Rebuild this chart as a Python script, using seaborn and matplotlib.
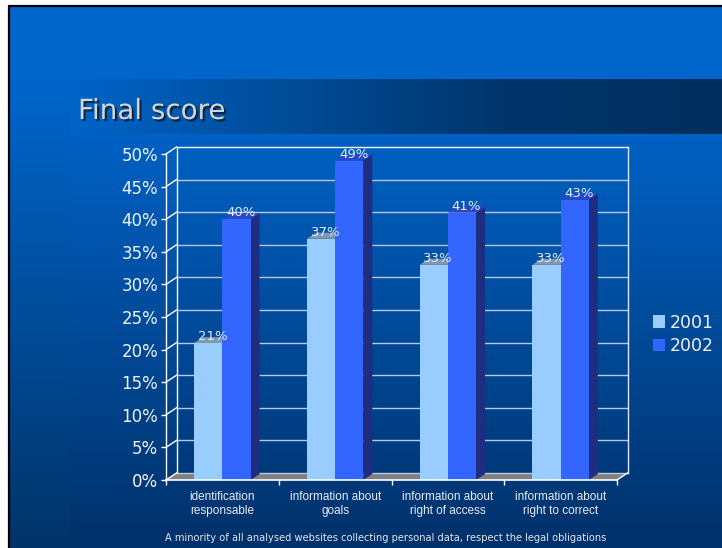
import numpy as np
import pandas as pd
import matplotlib
matplotlib.use('Agg')
import matplotlib.pyplot as plt
import matplotlib.patheffects as pe
from matplotlib.patches import Polygon, Rectangle
from matplotlib.colors import LinearSegmentedColormap
import seaborn as sns

# ---------------- data ----------------
categories = ['identification\nresponsable', 'information about\ngoals',
              'information about\nright of access', 'information about\nright to correct']
years = ['2001', '2002']
values_2001 = [21, 37, 33, 33]
values_2002 = [40, 49, 41, 43]
ytick_values = list(range(0, 55, 5))
ytick_labels = [f'{v}%' for v in ytick_values]
title = 'Final score'
caption = 'A minority of all analysed websites collecting personal data, respect the legal obligations'

# ---------------- figure & background ----------------
W, H = 722, 548
fig = plt.figure(figsize=(W / 100, H / 100), dpi=100, facecolor='white')

bg = fig.add_axes([0, 0, 1, 1], zorder=-10)
bg.axis('off')
grad_v = np.linspace(0, 1, 256).reshape(-1, 1)
grad_h = np.linspace(0, 1, 256).reshape(1, -1)
cm_left = LinearSegmentedColormap.from_list('l', ['#0066CC', '#003468'])
cm_main = LinearSegmentedColormap.from_list('m', ['#0061C4', '#00316A'])
cm_band = LinearSegmentedColormap.from_list('b', ['#0064C8', '#004C98', '#00356A', '#002F5E'])
bg.add_patch(Rectangle((9, 7), W - 9, 72, color='#0066CC', lw=0, zorder=0))
bg.imshow(grad_v, cmap=cm_left, extent=[9, 70, H, 79], aspect='auto', zorder=1)
bg.imshow(grad_v, cmap=cm_main, extent=[70, W, H, 134], aspect='auto', zorder=1)
bg.imshow(grad_h, cmap=cm_band, extent=[70, W, 134, 79], aspect='auto', zorder=1)
bg.plot([8.5, 8.5], [6, H], color='black', lw=1.6, zorder=3, solid_capstyle='butt')
bg.plot([8, W], [6, 6], color='black', lw=1.6, zorder=3, solid_capstyle='butt')
bg.set_xlim(0, W)
bg.set_ylim(H, 0)

# ---------------- chart axes ----------------
L, R, B, T = 166, 617, 480, 154
ax = fig.add_axes([L / W, 1 - B / H, (R - L) / W, (B - T) / H])

df = pd.DataFrame({
    'category': categories * 2,
    'year': [years[0]] * len(values_2001) + [years[1]] * len(values_2002),
    'value': values_2001 + values_2002,
})

front_cols = {'2001': '#99CCFF', '2002': '#3366FF'}
side_cols = {'2001': '#6F88A8', '2002': '#1E2D80'}
top_cols = {'2001': '#8099B3', '2002': '#2A47C8'}

sns.barplot(data=df, x='category', y='value', hue='year', hue_order=years,
            palette=[front_cols[y] for y in years], width=0.5, saturation=1,
            linewidth=0, ax=ax)

ax.set_xlim(-0.5, 3.5)
ax.set_ylim(0, 50)
ax.patch.set_alpha(0)
for s in ax.spines.values():
    s.set_visible(False)
ax.set_xlabel('')
ax.set_ylabel('')

ppx = 4 / (R - L)      # data units per pixel (x)
ppy = 50 / (B - T)     # data units per pixel (y)
dxb, dyb = 9 * ppx, 6 * ppy      # bar depth
dxw, dyw = 10.5 * ppx, 7 * ppy   # wall depth

# 3D faces of bars
for p in list(ax.patches):
    w = p.get_width()
    h = p.get_height()
    if w <= 0 or h <= 0:
        continue
    x0 = p.get_x()
    x1 = x0 + w
    cx = x0 + w / 2
    yr = '2001' if cx < round(cx) else '2002'
    base_z = 2.5 if yr == '2001' else 3.5
    p.set_zorder(base_z + 0.5)
    ax.add_patch(Polygon([(x1, 0), (x1 + dxb, dyb), (x1 + dxb, h + dyb), (x1, h)],
                         closed=True, fc=side_cols[yr], ec='none', zorder=base_z))
    ax.add_patch(Polygon([(x0, h), (x1, h), (x1 + dxb, h + dyb), (x0 + dxb, h + dyb)],
                         closed=True, fc=top_cols[yr], ec='none', zorder=base_z))
    ax.annotate(f'{h:.0f}%', xy=(cx, h), xytext=(4.5, 3), textcoords='offset pixels',
                ha='center', va='baseline', fontsize=9.5, color='#E4ECF8', zorder=6)

# floor
ax.add_patch(Polygon([(-0.5, 0), (3.5, 0), (3.5 + dxw, dyw), (-0.5 + dxw, dyw)],
                     closed=True, fc='#808080', ec='none', zorder=1.2, clip_on=False))

# back wall grid + side wall lines
for v in ytick_values:
    col = 'white' if v == ytick_values[-1] else '#B4C8E4'
    ax.plot([-0.5 + dxw, 3.5 + dxw], [v + dyw, v + dyw], color=col, lw=1.0,
            clip_on=False, zorder=1.5)
    ax.plot([-0.5, -0.5 + dxw], [v, v + dyw], color='white', lw=1.0,
            clip_on=False, zorder=1.5)
ax.plot([-0.5, -0.5], [0, 50], color='white', lw=1.0, clip_on=False, zorder=1.5)
ax.plot([-0.5 + dxw, -0.5 + dxw], [dyw, 50 + dyw], color='white', lw=1.0, clip_on=False, zorder=1.5)
ax.plot([3.5 + dxw, 3.5 + dxw], [dyw, 50 + dyw], color='#DDE6F2', lw=1.0, clip_on=False, zorder=1.5)
ax.plot([-0.5, 3.5], [0, 0], color='white', lw=1.2, clip_on=False, zorder=5)
ax.plot([3.5, 3.5 + dxw], [0, dyw], color='white', lw=1.0, clip_on=False, zorder=5)

# ticks
ax.set_yticks(ytick_values)
ax.set_yticklabels(ytick_labels)
ax.tick_params(axis='y', length=3.6, width=1, color='white', labelcolor='#F2F2F2',
               labelsize=12, pad=2)
ax.set_xticks(range(len(categories)))
ax.set_xticklabels(categories, fontfamily='Liberation Sans', fontsize=8.5,
                   color='#E8ECF2', linespacing=1.2)
ax.tick_params(axis='x', which='major', length=0, pad=8)
ax.set_xticks(np.arange(-0.5, len(categories), 1), minor=True)
ax.tick_params(axis='x', which='minor', length=3.6, width=1, color='white')

# legend
sns.move_legend(ax, 'upper left', bbox_to_anchor=(637 / W, 1 - 298 / H),
                bbox_transform=fig.transFigure, frameon=False, title=None,
                fontsize=12.5, handlelength=0.7, handleheight=0.7,
                handletextpad=0.3, labelspacing=0.3, labelcolor='#F2F2F2')

# title and caption
fig.text(78 / W, 1 - 119 / H, title, fontsize=20, color='#D6D6D6', ha='left', va='baseline',
         path_effects=[pe.withSimplePatchShadow(offset=(1.5, -1.5), shadow_rgbFace='#101820', alpha=0.8)])
fig.text(385.5 / W, 1 - 538 / H, caption, ha='center', va='center', fontsize=7.1, color='#E2E6EC')

fig.savefig('out.png', dpi=100, facecolor=fig.get_facecolor())
